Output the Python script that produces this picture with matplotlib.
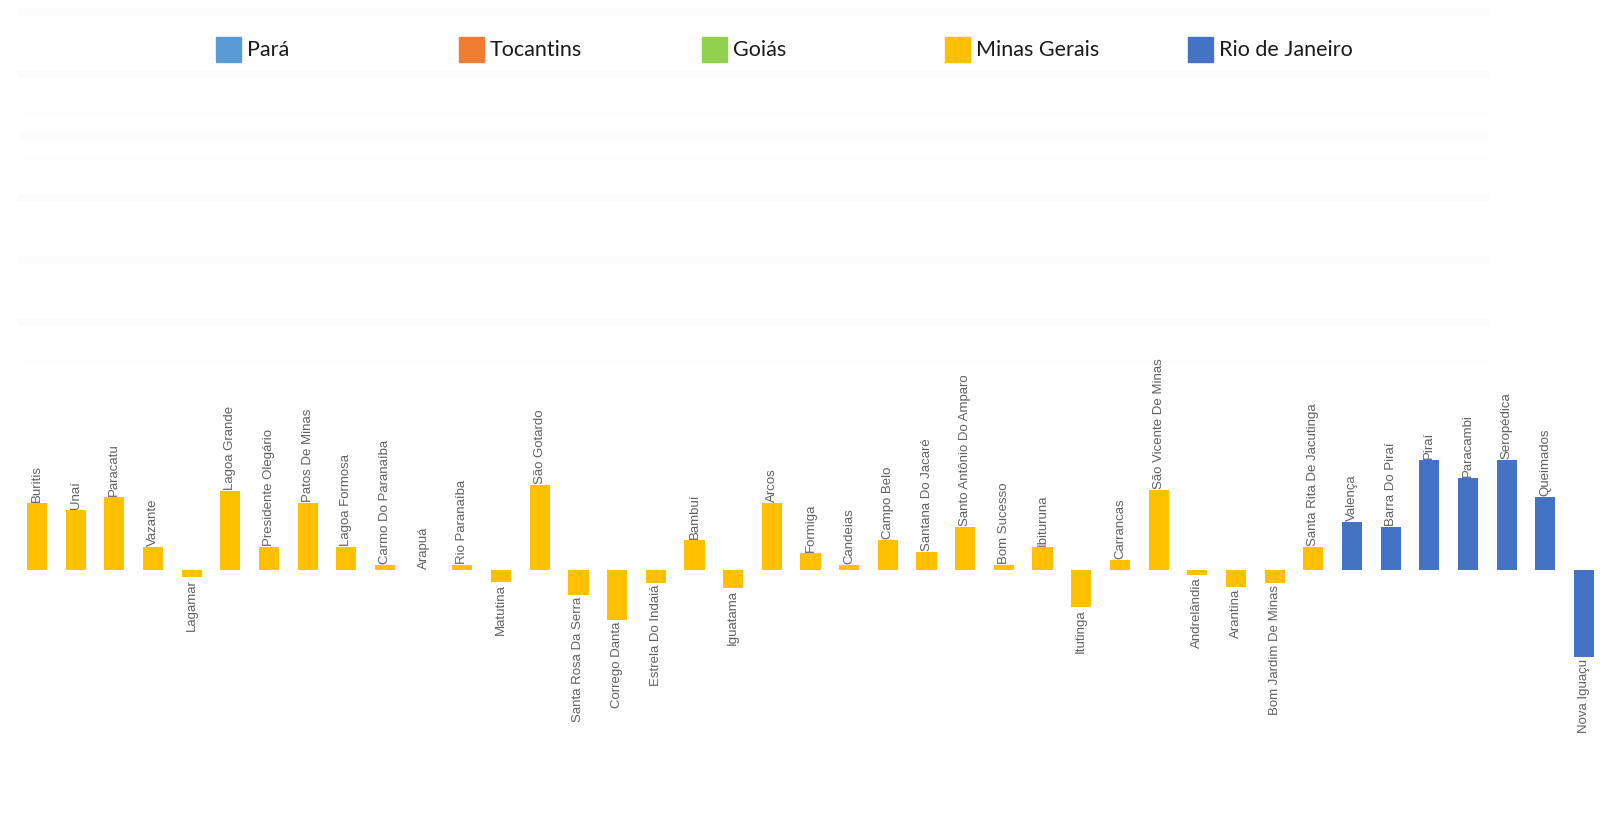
import numpy as np
import matplotlib.pyplot as plt
from matplotlib.patches import Rectangle

# municípios ao longo do trecho, na ordem do percurso
cidades = ["Buritis", "Unaí", "Paracatu", "Vazante", "Lagamar", "Lagoa Grande",
           "Presidente Olegário", "Patos De Minas", "Lagoa Formosa", "Carmo Do Paranaíba",
           "Arapuá", "Rio Paranaíba", "Matutina", "São Gotardo", "Santa Rosa Da Serra",
           "Corrego Danta", "Estrela Do Indaiá", "Bambuí", "Iguatama", "Arcos", "Formiga",
           "Candeias", "Campo Belo", "Santana Do Jacaré", "Santo Antônio Do Amparo",
           "Bom Sucesso", "Ibituruna", "Itutinga", "Carrancas", "São Vicente De Minas",
           "Andrelândia", "Arantina", "Bom Jardim De Minas", "Santa Rita De Jacutinga",
           "Valença", "Barra Do Piraí", "Piraí", "Paracambi", "Seropédica", "Queimados",
           "Nova Iguaçu"]
valores = [67, 60, 73, 23, -7, 79, 23, 67, 23, 5, 0, 5, -12, 85, -25, -50, -13, 30, -18,
           67, 17, 5, 30, 18, 43, 5, 23, -37, 10, 80, -5, -17, -13, 23, 48, 43, 110, 92,
           110, 73, -87]
estado_cidade = ["Minas Gerais"] * 34 + ["Rio de Janeiro"] * 7

estados = ["Pará", "Tocantins", "Goiás", "Minas Gerais", "Rio de Janeiro"]
cores = ["#5b9bd5", "#ed7d31", "#92d050", "#ffc000", "#4472c4"]
cor_estado = dict(zip(estados, cores))

W, H, DPI = 1615, 814, 100
fig = plt.figure(figsize=(W / DPI, H / DPI), dpi=DPI)
fig.patch.set_facecolor("white")

# faixas quase brancas do fundo
fundo = fig.add_axes([0, 0, 1, 1], zorder=0)
fundo.set_xlim(0, W)
fundo.set_ylim(H, 0)
fundo.axis("off")
for y0 in np.arange(8, 330, 62):
    fundo.add_patch(Rectangle((18, y0), 1472, 8, color="#fcfcfc", lw=0))
    fundo.add_patch(Rectangle((18, y0 + 24), 1472, 22, color="#fefefe", lw=0))

ax = fig.add_axes([0, 0, 1, 1], zorder=1)
ax.patch.set_alpha(0)
passo = 38.675
x0 = 37
ax.set_xlim(-x0 / passo, (W - x0) / passo)
ax.set_ylim(-(H - 570), 570)
ax.axis("off")

x = np.arange(len(cidades))
cores_barras = [cor_estado[e] for e in estado_cidade]
ax.bar(x, valores, width=0.52, color=cores_barras, zorder=2)

for xi, v, nome in zip(x, valores, cidades):
    if v >= 0:
        ax.text(xi, v + 1, nome, rotation=90, ha="center", va="bottom",
                fontsize=9.5, color="#606060", family="Liberation Sans")
    else:
        ax.text(xi, v - 2, nome, rotation=90, ha="center", va="top",
                fontsize=9.5, color="#606060", family="Liberation Sans")

# legenda no topo
for i, (nome, cor) in enumerate(zip(estados, cores)):
    lx = 216 + i * 243
    fig.patches.append(Rectangle((lx / W, 1 - 62 / H), 25 / W, 25 / H,
                                 transform=fig.transFigure, color=cor, figure=fig))
    fig.text((lx + 31) / W, 1 - 50 / H, nome, ha="left", va="center",
             fontsize=15.5, color="#1a1a1a", family="Lato")

fig.savefig("out.png", dpi=DPI)
